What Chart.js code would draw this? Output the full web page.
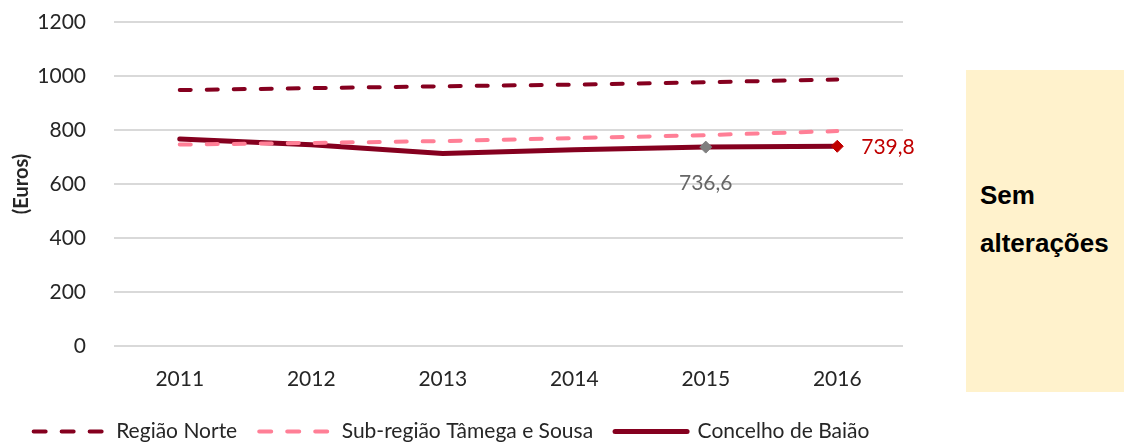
<!DOCTYPE html>
<html>
<head>
<meta charset="utf-8">
<script src="https://cdn.jsdelivr.net/npm/chart.js@4.4.1/dist/chart.umd.min.js"></script>
<style>
  html, body { margin: 0; padding: 0; background: #ffffff; }
  #wrap { position: relative; width: 1124px; height: 442px; }
  #c { position: absolute; left: 0; top: 0; }
  #note {
    position: absolute; left: 966px; top: 70px; width: 158px; height: 322px;
    background: #FFF2CC; font-family: "Liberation Sans", Arial, sans-serif;
    font-weight: bold; font-size: 26px; line-height: 30px; color: #000;
  }
  #note div { position: absolute; left: 14px; }
</style>
</head>
<body>
<div id="wrap">
  <canvas id="c" width="1124" height="442"></canvas>
  <div id="note"><div style="top:110px">Sem</div><div style="top:158px">alterações</div></div>
</div>
<script>
const years = ['2011', '2012', '2013', '2014', '2015', '2016'];
const regiaoNorte = [948, 955, 962, 968, 977, 987];
const subRegiao = [746, 752, 759, 770, 781, 796];
const baiao = [767, 745, 713, 727, 736.6, 739.8];
const yTicks = [0, 200, 400, 600, 800, 1000, 1200];
const seriesNames = ['Região Norte', 'Sub-região Tâmega e Sousa', 'Concelho de Baião'];
const labelTexts = ['', '', '', '', '736,6', '739,8'];

const FONT = 'Lato, "Open Sans", sans-serif';

const dataLabels = {
  id: 'dataLabels',
  afterDatasetsDraw(chart) {
    const meta = chart.getDatasetMeta(2);
    const ctx = chart.ctx;
    ctx.save();
    ctx.font = '21px ' + FONT;
    ctx.textBaseline = 'middle';
    const p4 = meta.data[4];
    ctx.fillStyle = '#666666';
    ctx.textAlign = 'center';
    ctx.fillText(labelTexts[4], p4.x, p4.y + 36);
    const p5 = meta.data[5];
    ctx.fillStyle = '#C00000';
    ctx.textAlign = 'left';
    ctx.fillText(labelTexts[5], p5.x + 24, p5.y + 1);
    ctx.restore();
  }
};

new Chart(document.getElementById('c'), {
  type: 'line',
  data: {
    labels: years,
    datasets: [
      {
        label: seriesNames[0], data: regiaoNorte,
        borderColor: '#85001F', backgroundColor: '#85001F',
        borderWidth: 4, borderDash: [11, 16], borderCapStyle: 'round',
        pointRadius: 0, tension: 0
      },
      {
        label: seriesNames[1], data: subRegiao,
        borderColor: '#FF7F96', backgroundColor: '#FF7F96',
        borderWidth: 4, borderDash: [11, 16], borderCapStyle: 'round',
        pointRadius: 0, tension: 0
      },
      {
        label: seriesNames[2], data: baiao,
        borderColor: '#85001F', backgroundColor: '#85001F',
        borderWidth: 5, borderCapStyle: 'round',
        pointStyle: 'rectRot',
        pointRadius: [0, 0, 0, 0, 6, 6],
        pointBackgroundColor: ['#85001F', '#85001F', '#85001F', '#85001F', '#7F7F7F', '#C00000'],
        pointBorderColor: ['#85001F', '#85001F', '#85001F', '#85001F', '#7F7F7F', '#C00000'],
        pointBorderWidth: 1,
        tension: 0
      }
    ]
  },
  options: {
    responsive: false,
    animation: false,
    events: [],
    layout: { padding: { top: 22, right: 221, left: 0, bottom: -10 } },
    plugins: {
      tooltip: { enabled: false },
      legend: {
        position: 'bottom',
        labels: {
          font: { family: FONT, size: 21 },
          color: '#262626',
          usePointStyle: true,
          pointStyleWidth: 72,
          boxHeight: 21,
          padding: 22,
          generateLabels(chart) {
            const items = Chart.defaults.plugins.legend.labels.generateLabels(chart);
            items.forEach((it, i) => {
              const ds = chart.data.datasets[i];
              it.pointStyle = 'line';
              it.strokeStyle = ds.borderColor;
              it.fillStyle = ds.borderColor;
              it.lineWidth = ds.borderWidth;
              it.lineDash = i < 2 ? [12, 16] : [];
              it.lineCap = ds.borderCapStyle;
            });
            return items;
          }
        }
      }
    },
    scales: {
      x: {
        offset: true,
        grid: { display: false, drawTicks: false },
        border: { display: false },
        ticks: { font: { family: FONT, size: 21 }, color: '#262626', padding: 21 },
        afterFit(scale) { scale.height = 53; }
      },
      y: {
        min: 0, max: 1200,
        afterBuildTicks(scale) { scale.ticks = yTicks.map(v => ({ value: v })); },
        grid: { color: '#D9D9D9', lineWidth: 2, drawTicks: false },
        border: { display: false },
        ticks: {
          font: { family: FONT, size: 21 }, color: '#262626', padding: 28,
          callback: (v) => String(v)
        },
        title: {
          display: true, text: '(Euros)',
          font: { family: FONT, size: 20, weight: 'bold' }, color: '#262626',
          padding: { top: 10, bottom: 0 }
        },
        afterFit(scale) {
          scale.width = 114;
          scale.paddingTop = 0;
          scale.paddingBottom = 0;
        }
      }
    }
  },
  plugins: [dataLabels]
});
</script>
</body>
</html>
